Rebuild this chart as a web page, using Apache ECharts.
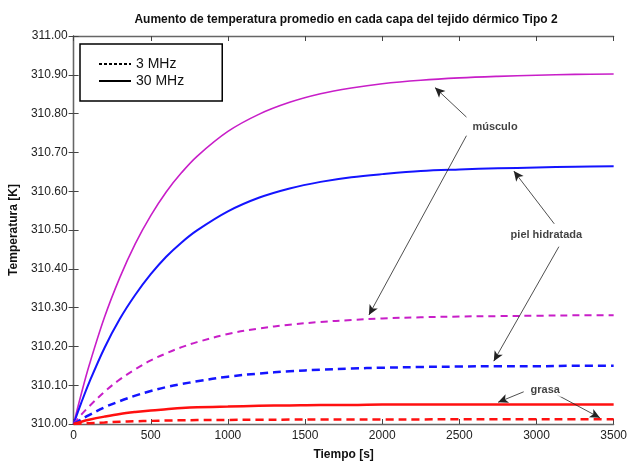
<!DOCTYPE html>
<html><head><meta charset="utf-8">
<script src="https://cdn.jsdelivr.net/npm/echarts@6/dist/echarts.min.js"></script>
<style>html,body{margin:0;padding:0;background:#fff}#c{width:630px;height:466px}</style>
</head><body><div id="c"></div>
<script>
const titleText = 'Aumento de temperatura promedio en cada capa del tejido dérmico Tipo 2';
const xName = 'Tiempo [s]';
const yName = 'Temperatura [K]';
const legendNames = ['3 MHz', '30 MHz'];
const times = [0,50,100,200,300,400,500,600,700,800,1000,1200,1400,1600,1800,2000,2250,2500,2750,3000,3250,3500];
const musculo30 = [310.000,310.078,310.150,310.275,310.378,310.465,310.537,310.598,310.648,310.690,310.754,310.798,310.829,310.851,310.866,310.877,310.886,310.892,310.896,310.899,310.901,310.902];
const piel30 = [310.000,310.055,310.106,310.196,310.271,310.333,310.386,310.431,310.468,310.499,310.548,310.583,310.607,310.624,310.636,310.644,310.652,310.656,310.659,310.661,310.663,310.664];
const musculo3 = [310.000,310.024,310.045,310.083,310.115,310.141,310.164,310.182,310.198,310.211,310.232,310.246,310.256,310.263,310.268,310.272,310.275,310.277,310.278,310.279,310.280,310.280];
const piel3 = [310.000,310.012,310.023,310.043,310.059,310.073,310.085,310.095,310.103,310.110,310.122,310.130,310.136,310.140,310.143,310.145,310.147,310.148,310.149,310.149,310.150,310.150];
const grasa30 = [310.000,310.006,310.011,310.019,310.026,310.031,310.035,310.038,310.041,310.043,310.045,310.047,310.048,310.049,310.049,310.050,310.050,310.050,310.050,310.050,310.050,310.050];
const grasa3 = [310.000,310.001,310.002,310.004,310.006,310.007,310.008,310.009,310.0095,310.010,310.0105,310.011,310.0113,310.0115,310.0117,310.0118,310.0119,310.012,310.012,310.012,310.012,310.012];
const annotLabels = [
  {text: 'músculo', t: 2731, v: 310.766},
  {text: 'piel hidratada', t: 3064, v: 310.486},
  {text: 'grasa', t: 3057, v: 310.087}
];
const arrows = [
  [[2546,310.791],[2342,310.867]],
  [[2546,310.743],[1914,310.281]],
  [[3115,310.516],[2853,310.652]],
  [[3145,310.457],[2723,310.162]],
  [[2917,310.083],[2751,310.056]],
  [[3134,310.075],[3411,310.016]]
];

const MAG = '#c81ec8', BLU = '#1414ff', RED = '#ff1010';
const pair = arr => times.map((t,i)=>[t,arr[i]]);
function lineSeries(name, arr, color, type, width){
  return {type:'line', name:name, data:pair(arr), showSymbol:false, symbol:'none',
    smooth:0.35,
    lineStyle:{color:color, width:width, type:type}, itemStyle:{color:color}, z:3, silent:true};
}
const chart = echarts.init(document.getElementById('c'), null, {renderer:'canvas'});
const F = 'Liberation Sans, Arial, sans-serif';
const axisCommon = {
  axisLine:{show:true, lineStyle:{color:'#666', width:1.3}},
  axisTick:{show:true, inside:true, length:5, lineStyle:{color:'#444'}},
  splitLine:{show:false}
};
chart.setOption({
  animation:false,
  title:{text:titleText, left:341, textAlign:'center', top:9,
    textStyle:{fontFamily:F, fontSize:12, fontWeight:'bold', color:'#111'}},
  legend:{data:[{name:legendNames[0]},{name:legendNames[1]}], orient:'vertical', left:80, top:44,
    width:142, padding:[13,38,13,18], itemGap:3, itemWidth:32, itemHeight:10,
    borderColor:'#000', borderWidth:1.5, selectedMode:false,
    itemStyle:{opacity:0},
    textStyle:{fontFamily:F, fontSize:14, color:'#111'}},
  grid:{left:69, right:16, top:36, bottom:34},
  xAxis:[
    Object.assign({type:'value', min:0, max:3500, interval:500, position:'bottom',
      name:xName, nameLocation:'middle', nameGap:25,
      nameTextStyle:{fontFamily:F, fontSize:12, fontWeight:'bold', color:'#111'},
      axisLabel:{fontFamily:F, fontSize:12, color:'#222', margin:6, formatter:v=>String(v)}}, axisCommon),
    Object.assign({type:'value', min:0, max:3500, interval:500, position:'top',
      axisLabel:{show:false}}, axisCommon)
  ],
  yAxis:[
    Object.assign({type:'value', min:310, max:311, interval:0.1, position:'left',
      name:yName, nameLocation:'middle', nameGap:50, nameRotate:90,
      nameTextStyle:{fontFamily:F, fontSize:12, fontWeight:'bold', color:'#111'},
      axisLabel:{fontFamily:F, fontSize:12, color:'#222', margin:6, formatter:v=>v.toFixed(2)}}, axisCommon),
    Object.assign({type:'value', min:310, max:311, interval:0.1, position:'right',
      axisLabel:{show:false}}, axisCommon)
  ],
  series:[
    lineSeries('m30', musculo30, MAG, 'solid', 1.6),
    lineSeries('p30', piel30, BLU, 'solid', 2),
    lineSeries('m3', musculo3, MAG, [7,5], 2),
    lineSeries('p3', piel3, BLU, [8,5], 2.5),
    lineSeries('g30', grasa30, RED, 'solid', 2.5),
    lineSeries('g3', grasa3, RED, [8,5], 2.5),
    {type:'line', name:legendNames[0], data:[], symbol:'none', showSymbol:false, lineStyle:{color:'#000', width:1.2, type:[3,2]}, itemStyle:{color:'#000'}},
    {type:'line', name:legendNames[1], data:[], symbol:'none', showSymbol:false, lineStyle:{color:'#000', width:1, type:'solid'}, itemStyle:{color:'#000'}},
    {type:'scatter', name:'labels', data:annotLabels.map(a=>({value:[a.t,a.v], name:a.text})),
      symbolSize:0, silent:true, z:5,
      label:{show:true, position:'inside', formatter:p=>p.name,
        fontFamily:F, fontSize:11, fontWeight:'bold', color:'#111',
        backgroundColor:'#fff', padding:[1,2]},
      markLine:{silent:true, symbol:['none','arrow'], symbolSize:[7,10], animation:false,
        label:{show:false}, lineStyle:{color:'#222', width:0.8, type:'solid'},
        data:arrows.map(a=>[{coord:a[0]},{coord:a[1]}])}}
  ]
});
</script></body></html>
